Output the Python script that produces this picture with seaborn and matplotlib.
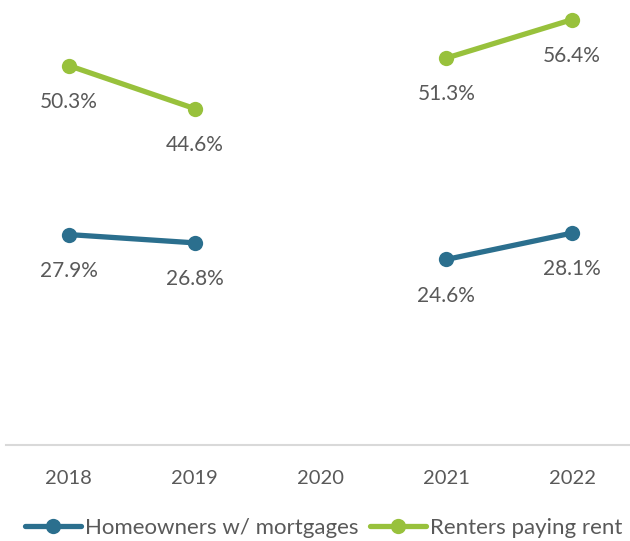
import numpy as np
import pandas as pd
import matplotlib
matplotlib.use("Agg")
import matplotlib.pyplot as plt
from matplotlib.lines import Line2D
import seaborn as sns

years = ["2018", "2019", "2020", "2021", "2022"]
homeowners = [27.9, 26.8, np.nan, 24.6, 28.1]
renters = [50.3, 44.6, np.nan, 51.3, 56.4]
series_names = ["Homeowners w/ mortgages", "Renters paying rent"]
colors = ["#2b6f8e", "#98c13c"]

sns.set_theme(style="white")
plt.rcParams["font.family"] = ["Lato", "DejaVu Sans"]

# Long-form table; the gap year splits each series into separate segments
rows = []
for name, vals in zip(series_names, [homeowners, renters]):
    seg = 0
    for i, v in enumerate(vals):
        if np.isnan(v):
            seg += 1
            continue
        rows.append({"series": name, "x": i, "value": v, "segment": f"{name}-{seg}"})
df = pd.DataFrame(rows)

fig = plt.figure(figsize=(6.30, 5.41), dpi=100)
ax = fig.add_axes([6 / 630, 96 / 541, 624 / 630, 445 / 541])

sns.lineplot(data=df, x="x", y="value", hue="series", units="segment",
             estimator=None, palette=colors, hue_order=series_names,
             marker="o", markersize=11, markeredgewidth=0, linewidth=3.8,
             legend=False, ax=ax)

text_color = "#595959"
for name, vals in zip(series_names, [homeowners, renters]):
    for i, v in enumerate(vals):
        if np.isnan(v):
            continue
        ax.annotate(f"{v:.1f}%", (i, v), xytext=(0, -26), textcoords="offset points",
                    ha="center", va="center", fontsize=15, color=text_color)

ax.set_xlim(-0.5, 4.46)
ax.set_ylim(0, 59)
ax.set_xticks(range(len(years)))
ax.set_xticklabels(years, fontsize=14.5, color=text_color)
ax.tick_params(axis="x", length=0, pad=18)
ax.set_yticks([])
ax.set_xlabel("")
ax.set_ylabel("")
for s in ["top", "right", "left"]:
    ax.spines[s].set_visible(False)
ax.spines["bottom"].set_color("#d9d9d9")
ax.spines["bottom"].set_linewidth(1.5)

handles = [Line2D([0], [0], color=c, lw=3.8, marker="o", markersize=11,
                  markeredgewidth=0) for c in colors]
fig.legend(handles, series_names, loc="center", bbox_to_anchor=(0.514, 13 / 541),
           ncol=2, frameon=False, fontsize=16, labelcolor=text_color,
           handlelength=2.5, handletextpad=0.18, columnspacing=0.55,
           borderpad=0, borderaxespad=0)

fig.savefig("out.png", dpi=100)
